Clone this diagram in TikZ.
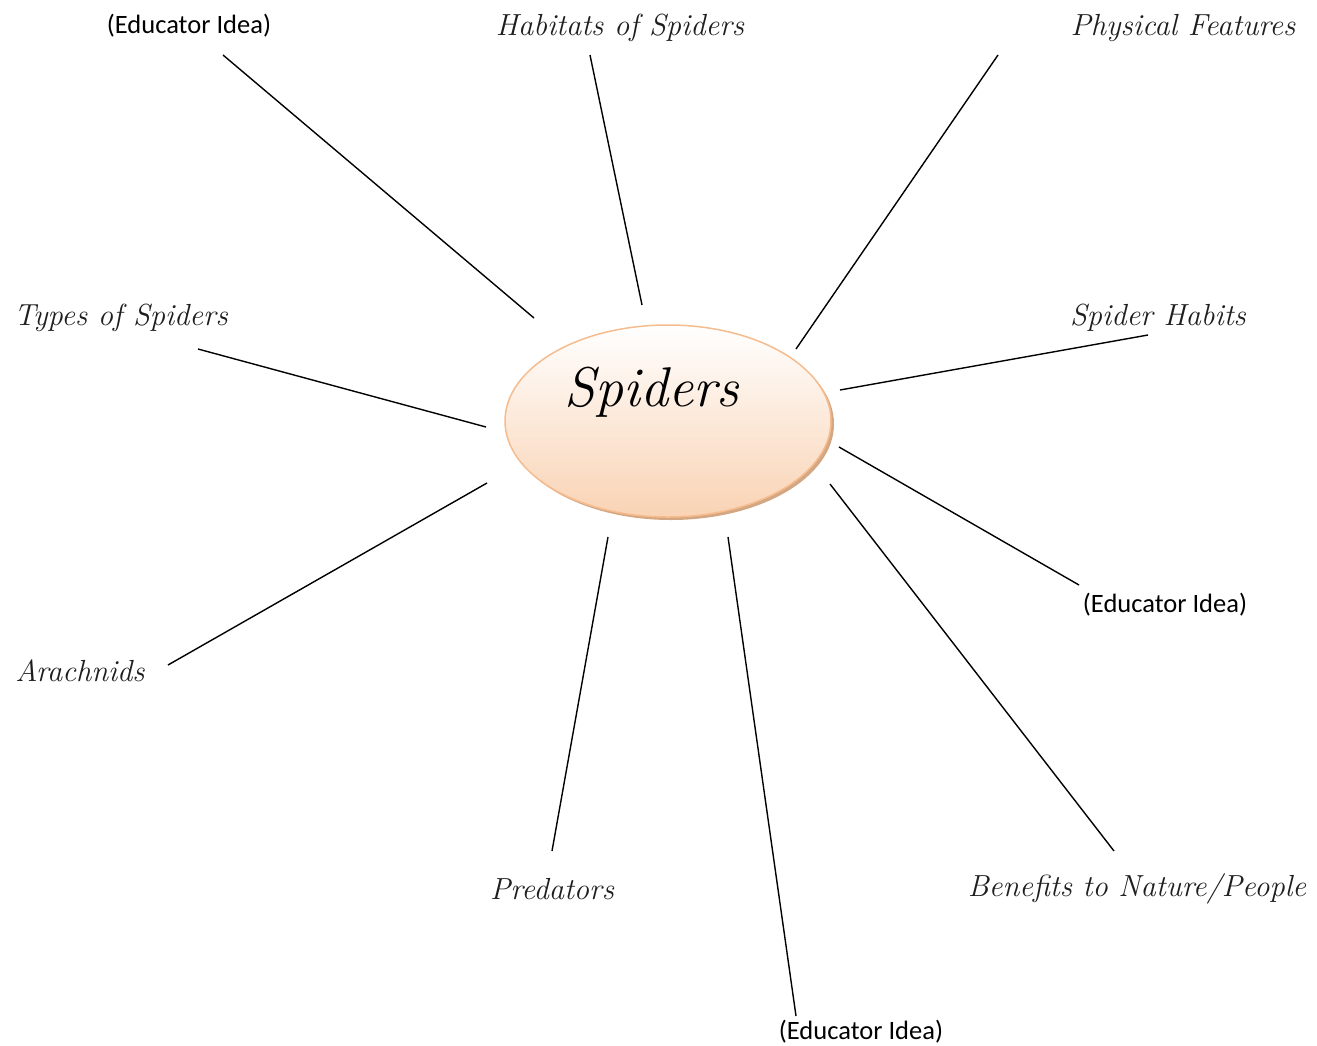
\documentclass[tikz,border=0pt]{standalone}
\usepackage{fontspec}
\newfontfamily\calib{Carlito}
\usetikzlibrary{shapes.geometric}
\definecolor{hubtop}{HTML}{FFFFFF}
\definecolor{hubmid}{HTML}{FDEDE1}
\definecolor{hubbot}{HTML}{F9D3B4}
\definecolor{hubedge}{HTML}{F6BC8E}
\definecolor{hubshadow}{HTML}{D4A783}
\definecolor{ink}{HTML}{1E1E1E}
\tikzset{
  spoke/.style={line width=1.4pt, black},
  hand/.style={font=\fontsize{30.5}{34}\selectfont\itshape, text=ink, inner sep=0pt, yshift=-3pt},
  edu/.style={font=\calib\fontsize{26.5}{30}\selectfont, text=black, inner sep=0pt, yshift=-1pt},
}
\begin{document}
\begin{tikzpicture}[x=1pt,y=-1pt]
\useasboundingbox (0,0) rectangle (1317,1045);
% hub
\fill[hubshadow] (671,424) ellipse [x radius=163, y radius=96];
\node[ellipse, draw=hubedge, line width=1.5pt, top color=hubtop, middle color=hubmid, bottom color=hubbot,
      minimum width=326pt, minimum height=192pt, inner sep=0pt] (hub) at (668,421) {};
\node[font=\fontsize{56}{62}\selectfont\itshape, inner sep=0pt] (title) at (652,392) {Spiders};
% labels
\node[edu]  (eduA)  at (189,25)   {(Educator Idea)};
\node[hand] (hab)   at (620,25)   {Habitats of Spiders};
\node[hand] (phys)  at (1183,25)  {Physical Features};
\node[hand] (types) at (121,315)  {Types of Spiders};
\node[hand] (habit) at (1158,315) {Spider Habits};
\node[edu]  (eduB)  at (1165,604) {(Educator Idea)};
\node[hand] (arach) at (80,668)   {Arachnids};
\node[hand] (pred)  at (552,886)  {Predators};
\node[hand] (bene)  at (1137,886) {Benefits to Nature/People};
\node[edu]  (eduC)  at (861,1031) {(Educator Idea)};
% spoke ends
\coordinate (a1) at (223,55);   \coordinate (a2) at (534,318);
\coordinate (b1) at (590,55);   \coordinate (b2) at (642,305);
\coordinate (c1) at (998,55);   \coordinate (c2) at (796,349);
\coordinate (d1) at (1148,335); \coordinate (d2) at (840,390);
\coordinate (e1) at (1079,585); \coordinate (e2) at (839,447);
\coordinate (f1) at (1114,851); \coordinate (f2) at (830,484);
\coordinate (g1) at (796,1016); \coordinate (g2) at (728,537);
\coordinate (h1) at (552,851);  \coordinate (h2) at (608,537);
\coordinate (i1) at (168,665);  \coordinate (i2) at (487,483);
\coordinate (j1) at (198,349);  \coordinate (j2) at (486,427);
\foreach \s in {a,b,c,d,e,f,g,h,i,j} \draw[spoke] (\s1) -- (\s2);
\end{tikzpicture}
\end{document}
